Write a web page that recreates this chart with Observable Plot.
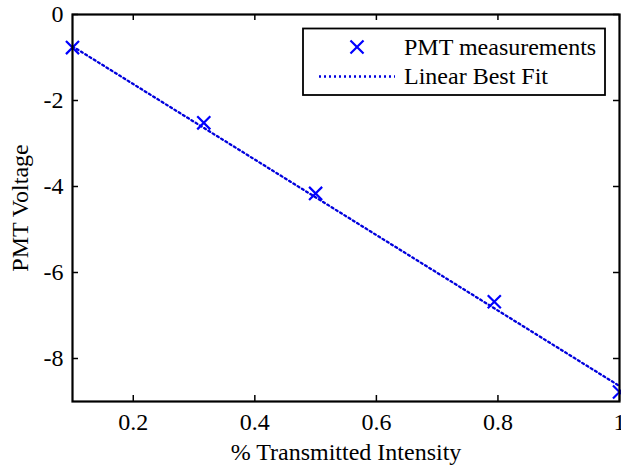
<!DOCTYPE html>
<html><head><meta charset="utf-8">
<script src="https://cdn.jsdelivr.net/npm/d3@7"></script>
<script src="https://cdn.jsdelivr.net/npm/@observablehq/plot@0.6"></script>
<style>body{margin:0;background:#fff;} #chart svg{display:block;}</style>
</head><body><div id="chart"></div>
<script>
const measX = [0.1, 0.316, 0.5, 0.794, 1.0];
const measY = [-0.77, -2.52, -4.16, -6.68, -8.78];
const fitX = [0.1, 1.0];
const fitY = [-0.74, -8.64];
const xTicks = [0.2, 0.4, 0.6, 0.8, 1];
const xTickLabels = ["0.2", "0.4", "0.6", "0.8", "1"];
const yTicks = [0, -2, -4, -6, -8];
const yTickLabels = ["0", "-2", "-4", "-6", "-8"];
const legendLabels = ["PMT measurements", "Linear Best Fit"];
const xLabel = "% Transmitted Intensity";
const yLabel = "PMT Voltage";

const meas = measX.map((x, i) => ({x, y: measY[i]}));
const fit = fitX.map((x, i) => ({x, y: fitY[i]}));

const W = 621, H = 466, mL = 72, mR = 2, mT = 14, mB = 65;
const innerW = W - mL - mR, innerH = H - mT - mB;
const tickLen = 6;
const blue = "#0000ff";
const lineBlue = "#0000dd";
const dash = "2,3";
const font = "'Liberation Serif', 'Times New Roman', serif";
const fs = 24;

const chart = Plot.plot({
  width: W, height: H,
  marginLeft: mL, marginRight: mR, marginTop: mT, marginBottom: mB,
  style: {fontFamily: font, fontSize: fs + "px", background: "white", color: "black"},
  x: {domain: [0.1, 1]},
  y: {domain: [-9, 0]},
  marks: [
    Plot.line(fit, {x: "x", y: "y", stroke: lineBlue, strokeWidth: 2.3, strokeDasharray: dash}),
    Plot.dot(meas, {x: "x", y: "y", symbol: "times", r: 6, stroke: blue, strokeWidth: 2.2}),
    // inward ticks
    Plot.ruleY(yTicks, {y: d => d, x1: 0.1, x2: 1, insetRight: innerW - tickLen, stroke: "black", strokeWidth: 1.5}),
    Plot.ruleY(yTicks, {y: d => d, x1: 0.1, x2: 1, insetLeft: innerW - tickLen, stroke: "black", strokeWidth: 1.5}),
    Plot.ruleX(xTicks, {x: d => d, y1: 0, y2: -9, insetTop: innerH - tickLen, stroke: "black", strokeWidth: 1.5}),
    Plot.ruleX(xTicks, {x: d => d, y1: 0, y2: -9, insetBottom: innerH - tickLen, stroke: "black", strokeWidth: 1.5}),
    Plot.frame({stroke: "black", strokeWidth: 2.2}),
    Plot.axisX(xTicks, {tickSize: 0, tickPadding: 11, tickFormat: d => xTickLabels[xTicks.indexOf(d)],
      label: null, fontSize: fs, fontFamily: font}),
    Plot.axisY(yTicks, {tickSize: 0, tickPadding: 9, tickFormat: d => yTickLabels[yTicks.indexOf(d)],
      label: null, fontSize: fs, fontFamily: font}),
    Plot.text([xLabel], {text: d => d, frameAnchor: "bottom", dy: 51, lineAnchor: "middle", textAnchor: "middle",
      fontSize: fs, fontFamily: font, fill: "black"}),
    Plot.text([yLabel], {text: d => d, frameAnchor: "left", dx: -52, rotate: -90, textAnchor: "middle", lineAnchor: "middle",
      fontSize: fs, fontFamily: font, fill: "black"})
  ]
});
document.getElementById("chart").appendChild(chart);

// legend
const svg = d3.select(chart);
const lg = svg.append("g").attr("font-family", font).attr("font-size", fs).attr("text-anchor", "start");
lg.append("rect").attr("x", 303).attr("y", 28.5).attr("width", 302).attr("height", 66.5)
  .attr("fill", "white").attr("stroke", "black").attr("stroke-width", 1.8);
lg.append("path").attr("d", d3.symbol(d3.symbolTimes, Math.PI * 36)())
  .attr("transform", "translate(357,47)").attr("fill", "none").attr("stroke", blue).attr("stroke-width", 2.2);
lg.append("line").attr("x1", 319).attr("x2", 395).attr("y1", 76.5).attr("y2", 76.5)
  .attr("stroke", lineBlue).attr("stroke-width", 2.3).attr("stroke-dasharray", dash);
lg.append("text").attr("x", 404).attr("y", 55).text(legendLabels[0]);
lg.append("text").attr("x", 404).attr("y", 84).text(legendLabels[1]);
</script>
</body></html>
